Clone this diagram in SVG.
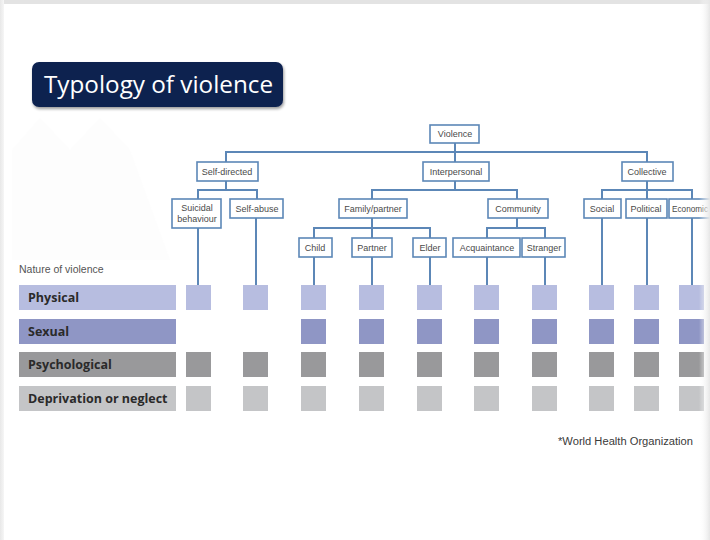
<svg xmlns="http://www.w3.org/2000/svg" width="710" height="540" viewBox="0 0 710 540">
<defs>
<linearGradient id="rg" x1="0" y1="0" x2="1" y2="0">
<stop offset="0" stop-color="#ffffff" stop-opacity="0"/>
<stop offset="1" stop-color="#e6e6e6"/>
</linearGradient>
<linearGradient id="lg" x1="0" y1="0" x2="1" y2="0">
<stop offset="0" stop-color="#e8e8e8"/>
<stop offset="1" stop-color="#f6f6f6"/>
</linearGradient>
<filter id="sh" x="-10%" y="-20%" width="120%" height="150%">
<feGaussianBlur in="SourceAlpha" stdDeviation="1.5"/>
<feOffset dx="1" dy="2"/>
<feComponentTransfer><feFuncA type="linear" slope="0.4"/></feComponentTransfer>
<feMerge><feMergeNode/><feMergeNode in="SourceGraphic"/></feMerge>
</filter>
</defs>
<style>
.box{fill:#ffffff;stroke:#5c87b7;stroke-width:1.6}
.lbl{font-family:"Liberation Sans",Arial,sans-serif;font-size:9px;fill:#4a4a4a;text-anchor:middle}
.con{fill:none;stroke:#5c87b7;stroke-width:2}
.rowt{font-family:"Open Sans","DejaVu Sans",sans-serif;font-size:12.5px;font-weight:bold;fill:#2a2a2a}
.p{fill:#b7bde0}
.s{fill:#8f96c5}
.g{fill:#99999b}
.d{fill:#c4c5c7}
</style>
<rect x="0" y="0" width="710" height="540" fill="#ffffff"/>
<rect x="0" y="0" width="710" height="4" fill="#e3e3e3"/>
<rect x="0" y="0" width="4" height="540" fill="url(#lg)"/>
<polygon points="12,260 12,150 40,118 70,150 100,118 130,150 170,260" fill="#fdfdfd"/>

<g id="title">
<rect x="32" y="62" width="251" height="45" rx="7" fill="#0b2150" filter="url(#sh)"/>
<text x="44" y="93" font-family="'Open Sans','DejaVu Sans',sans-serif" font-size="24" fill="#ffffff" textLength="229" lengthAdjust="spacingAndGlyphs">Typology of violence</text>
</g>

<g id="connectors">
<path class="con" d="M455,143 V162 M226,162 V152 H647 V162"/>
<path class="con" d="M226,181 V190 M198,199 V190 H257 V199"/>
<path class="con" d="M455,181 V190 M372,199 V190 H517 V199"/>
<path class="con" d="M647,181 V199 M602,199 V190 H692 V199"/>
<path class="con" d="M372,218 V238 M314,238 V228 H430 V238"/>
<path class="con" d="M517,218 V228 M487,238 V228 H545 V238"/>
<path class="con" d="M198,228 V285 M256,218 V285 M314,257 V285 M372,257 V285 M430,257 V285 M487,257 V285 M545,257 V285 M602,218 V285 M647,218 V285 M692,218 V285"/>
</g>

<g id="violence"><rect class="box" x="430" y="125" width="49" height="18"/><text class="lbl" x="455" y="137">Violence</text></g>
<g id="self-directed"><rect class="box" x="197" y="162" width="61" height="19"/><text class="lbl" x="227" y="175">Self-directed</text></g>
<g id="interpersonal"><rect class="box" x="423" y="162" width="66" height="19"/><text class="lbl" x="456" y="175">Interpersonal</text></g>
<g id="collective"><rect class="box" x="622" y="162" width="51" height="19"/><text class="lbl" x="647" y="175">Collective</text></g>
<g id="suicidal"><rect class="box" x="172" y="199" width="49" height="29"/><text class="lbl" x="197" y="211">Suicidal</text><text class="lbl" x="197" y="222">behaviour</text></g>
<g id="self-abuse"><rect class="box" x="230" y="199" width="53" height="19"/><text class="lbl" x="257" y="212">Self-abuse</text></g>
<g id="family"><rect class="box" x="339" y="199" width="68" height="19"/><text class="lbl" x="373" y="212">Family/partner</text></g>
<g id="community"><rect class="box" x="488" y="199" width="60" height="19"/><text class="lbl" x="518" y="212">Community</text></g>
<g id="social"><rect class="box" x="584" y="199" width="37" height="19"/><text class="lbl" x="602" y="212">Social</text></g>
<g id="political"><rect class="box" x="626" y="199" width="41" height="19"/><text class="lbl" x="646" y="212">Political</text></g>
<g id="economic"><rect class="box" x="669" y="199" width="45" height="19"/><text class="lbl" x="672" y="212" style="text-anchor:start" textLength="36" lengthAdjust="spacingAndGlyphs">Economic</text></g>
<g id="child"><rect class="box" x="299" y="238" width="33" height="19"/><text class="lbl" x="315" y="251">Child</text></g>
<g id="partner"><rect class="box" x="352" y="238" width="40" height="19"/><text class="lbl" x="372" y="251">Partner</text></g>
<g id="elder"><rect class="box" x="413" y="238" width="33" height="19"/><text class="lbl" x="430" y="251">Elder</text></g>
<g id="acquaintance"><rect class="box" x="453" y="238" width="67" height="19"/><text class="lbl" x="487" y="251">Acquaintance</text></g>
<g id="stranger"><rect class="box" x="522" y="238" width="43" height="19"/><text class="lbl" x="544" y="251">Stranger</text></g>

<g id="legend">
<text x="19" y="273" font-family="'Liberation Sans',Arial,sans-serif" font-size="10.5" fill="#555555">Nature of violence</text>
<rect class="p" x="19" y="285" width="157" height="25"/><text class="rowt" x="28" y="302">Physical</text>
<rect class="s" x="19" y="319" width="157" height="25"/><text class="rowt" x="28" y="336">Sexual</text>
<rect class="g" x="19" y="352" width="157" height="25"/><text class="rowt" x="28" y="369">Psychological</text>
<rect class="d" x="19" y="386" width="157" height="25"/><text class="rowt" x="28" y="403">Deprivation or neglect</text>
</g>

<g id="grid">
<g class="p">
<rect x="186" y="285" width="25" height="25"/><rect x="243" y="285" width="25" height="25"/><rect x="301" y="285" width="25" height="25"/><rect x="359" y="285" width="25" height="25"/><rect x="417" y="285" width="25" height="25"/><rect x="474" y="285" width="25" height="25"/><rect x="532" y="285" width="25" height="25"/><rect x="589" y="285" width="25" height="25"/><rect x="634" y="285" width="25" height="25"/><rect x="679" y="285" width="25" height="25"/>
</g>
<g class="s">
<rect x="301" y="319" width="25" height="25"/><rect x="359" y="319" width="25" height="25"/><rect x="417" y="319" width="25" height="25"/><rect x="474" y="319" width="25" height="25"/><rect x="532" y="319" width="25" height="25"/><rect x="589" y="319" width="25" height="25"/><rect x="634" y="319" width="25" height="25"/><rect x="679" y="319" width="25" height="25"/>
</g>
<g class="g">
<rect x="186" y="352" width="25" height="25"/><rect x="243" y="352" width="25" height="25"/><rect x="301" y="352" width="25" height="25"/><rect x="359" y="352" width="25" height="25"/><rect x="417" y="352" width="25" height="25"/><rect x="474" y="352" width="25" height="25"/><rect x="532" y="352" width="25" height="25"/><rect x="589" y="352" width="25" height="25"/><rect x="634" y="352" width="25" height="25"/><rect x="679" y="352" width="25" height="25"/>
</g>
<g class="d">
<rect x="186" y="386" width="25" height="25"/><rect x="243" y="386" width="25" height="25"/><rect x="301" y="386" width="25" height="25"/><rect x="359" y="386" width="25" height="25"/><rect x="417" y="386" width="25" height="25"/><rect x="474" y="386" width="25" height="25"/><rect x="532" y="386" width="25" height="25"/><rect x="589" y="386" width="25" height="25"/><rect x="634" y="386" width="25" height="25"/><rect x="679" y="386" width="25" height="25"/>
</g>
</g>

<text x="558" y="445" font-family="'Liberation Sans',Arial,sans-serif" font-size="10" fill="#3a3a3a" textLength="135" lengthAdjust="spacingAndGlyphs">*World Health Organization</text>
<rect x="699" y="0" width="11" height="540" fill="url(#rg)"/>
</svg>
